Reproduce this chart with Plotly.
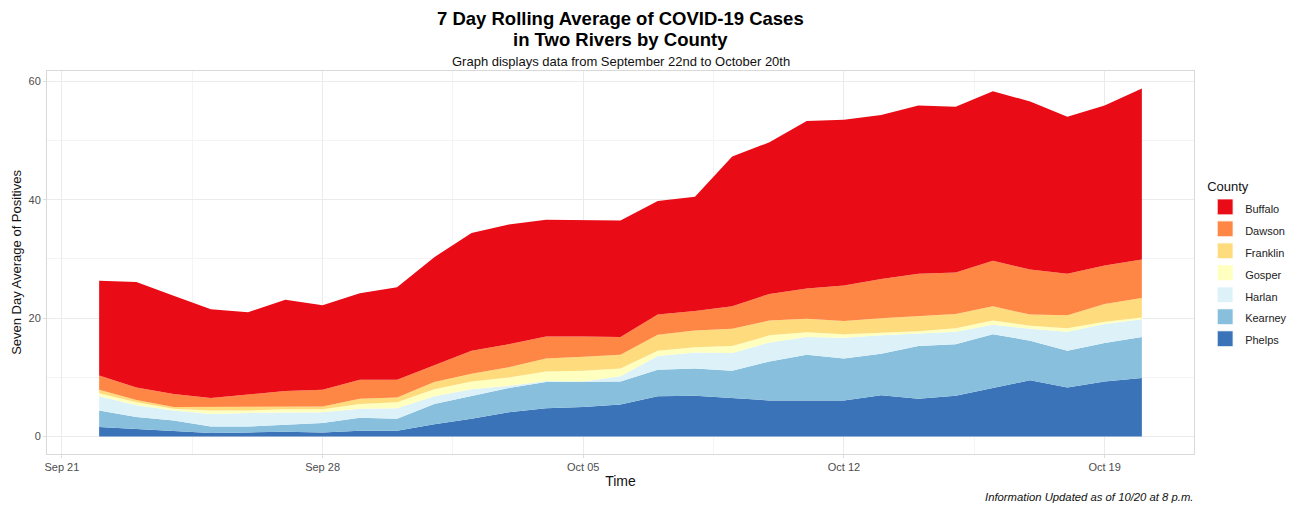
import plotly.graph_objects as go
import pandas as pd

# datas (22/09 a 20/10)
datas = pd.date_range('2020-09-22', '2020-10-20', freq='D')

condados = ['Phelps', 'Kearney', 'Harlan', 'Gosper', 'Franklin', 'Dawson', 'Buffalo']

phelps = [1.6, 1.3, 1.0, 0.6, 0.7, 0.8, 0.7, 1.0, 1.0, 2.1, 3.0, 4.1, 4.8, 5.0, 5.4,
          6.8, 6.9, 6.5, 6.1, 6.1, 6.1, 7.0, 6.4, 6.9, 8.2, 9.5, 8.3, 9.3, 9.9]
kearney = [2.8, 2.0, 1.7, 1.1, 1.0, 1.2, 1.6, 2.2, 2.0, 3.4, 3.9, 4.1, 4.4, 4.2, 3.9,
           4.5, 4.6, 4.6, 6.6, 7.7, 7.1, 7.0, 8.9, 8.7, 9.1, 6.7, 6.2, 6.5, 6.9]
harlan = [2.4, 2.0, 1.7, 2.1, 2.3, 2.1, 1.8, 1.5, 1.8, 1.3, 1.1, 0.4, 0.2, 0.1, 0.9,
          2.3, 2.7, 3.0, 3.2, 3.0, 3.5, 3.1, 2.1, 2.1, 1.6, 2.0, 3.2, 3.2, 3.0]
gosper = [0.5, 0.5, 0.3, 0.6, 0.4, 0.5, 0.5, 0.8, 1.0, 1.2, 1.3, 1.4, 1.6, 1.8, 1.3,
          0.9, 0.9, 1.2, 1.2, 0.8, 0.6, 0.5, 0.4, 0.6, 0.7, 0.5, 0.6, 0.4, 0.3]
franklin = [0.6, 0.4, 0.3, 0.6, 0.6, 0.5, 0.5, 0.9, 0.8, 1.2, 1.3, 1.7, 2.2, 2.4, 2.3,
            2.7, 2.8, 2.9, 2.5, 2.3, 2.2, 2.4, 2.5, 2.4, 2.4, 1.9, 2.2, 3.0, 3.3]
dawson = [2.4, 2.1, 2.2, 1.5, 2.1, 2.6, 2.8, 3.2, 3.0, 2.9, 3.9, 3.9, 3.7, 3.4, 3.0,
          3.4, 3.3, 3.8, 4.5, 5.1, 6.0, 6.6, 7.2, 7.0, 7.7, 7.6, 7.0, 6.5, 6.5]
buffalo = [16.0, 17.8, 16.6, 15.0, 13.9, 15.4, 14.3, 14.6, 15.6, 18.2, 19.9, 20.2, 19.7, 19.6, 19.7,
           19.2, 19.3, 25.3, 25.6, 28.3, 28.0, 27.7, 28.4, 28.0, 28.6, 28.4, 26.5, 27.0, 28.9]

valores = [phelps, kearney, harlan, gosper, franklin, dawson, buffalo]
cores = ['#3A73B8', '#87BFDD', '#DDF2F8', '#FFFFBF', '#FEDC7E', '#FF8745', '#E90B16']

fig = go.Figure()

for nome, y, cor in zip(condados, valores, cores):
    fig.add_trace(go.Scatter(x=datas, y=y, name=nome, mode='lines',
                             stackgroup='um', line=dict(width=0, color=cor),
                             fillcolor=cor, showlegend=False, hoverinfo='x+y+name'))

# legenda com quadrados (texto menor dentro de span p/ espaçar os itens)
for nome, cor in zip(condados, cores):
    fig.add_trace(go.Scatter(x=[None], y=[None], mode='markers',
                             name='<span style="font-size:11px">' + nome + '</span>',
                             marker=dict(symbol='square', size=16, color=cor,
                                         line=dict(color='white', width=1))))

DIA = 86400000
cinza_grade = '#ebebeb'

# a pagina tem margem de 8px no body, entao a figura fica 8px menor
fig.update_layout(
    width=1291, height=500,
    paper_bgcolor='white', plot_bgcolor='white',
    font=dict(family='Liberation Sans, Arial, sans-serif', color='#222222'),
    margin=dict(l=39, r=105, t=63, b=54, autoexpand=False),
    legend=dict(title=dict(text='County', font=dict(size=13, color='#111')),
                traceorder='reversed', itemsizing='trace',
                xref='container', yref='container',
                x=0.9273, xanchor='left', y=0.668, yanchor='top',
                font=dict(size=14.6, color='#222'), tracegroupgap=0),
    xaxis=dict(range=['2020-09-20 14:24', '2020-10-21 09:36'],
               tick0='2020-09-21', dtick=7 * DIA, tickformat='%b %d',
               showgrid=True, gridcolor=cinza_grade, gridwidth=1,
               minor=dict(dtick=3.5 * DIA, tick0='2020-09-21', showgrid=True,
                          gridcolor='#f4f4f4', gridwidth=1),
               ticks='outside', ticklen=3, tickcolor='#dddddd',
               tickfont=dict(size=11, color='#4d4d4d'),
               showline=True, linecolor='#d9d9d9', linewidth=1, mirror=True,
               zeroline=False,
               title=dict(text='Time', font=dict(size=14, color='#111'), standoff=3)),
    yaxis=dict(range=[-2.94, 61.74], dtick=20, tick0=0,
               showgrid=True, gridcolor=cinza_grade, gridwidth=1,
               minor=dict(dtick=10, showgrid=True, gridcolor='#f4f4f4', gridwidth=1),
               ticks='outside', ticklen=3, tickcolor='#dddddd',
               tickfont=dict(size=11, color='#4d4d4d'),
               showline=True, linecolor='#d9d9d9', linewidth=1, mirror=True,
               zeroline=False,
               title=dict(text='Seven Day Average of Positives',
                          font=dict(size=13, color='#111'), standoff=3)),
    annotations=[
        dict(text='<b>7 Day Rolling Average of COVID-19 Cases</b>',
             xref='paper', yref='paper', x=0.5, y=1.0, yshift=53, yanchor='middle',
             showarrow=False, font=dict(size=18.5, color='#000')),
        dict(text='<b>in Two Rivers by County</b>',
             xref='paper', yref='paper', x=0.5, y=1.0, yshift=32, yanchor='middle',
             showarrow=False, font=dict(size=18.5, color='#000')),
        dict(text='Graph displays data from September 22nd to October 20th',
             xref='paper', yref='paper', x=0.5, y=1.0, yshift=10, yanchor='middle',
             showarrow=False, font=dict(size=13, color='#111')),
        dict(text='<i>Information Updated as of 10/20 at 8 p.m.</i>',
             xref='paper', yref='paper', x=1.0, xanchor='right', xshift=2, y=0, yshift=-43,
             yanchor='middle', showarrow=False, font=dict(size=11.3, color='#111')),
    ],
)

fig.write_html('out.html')
